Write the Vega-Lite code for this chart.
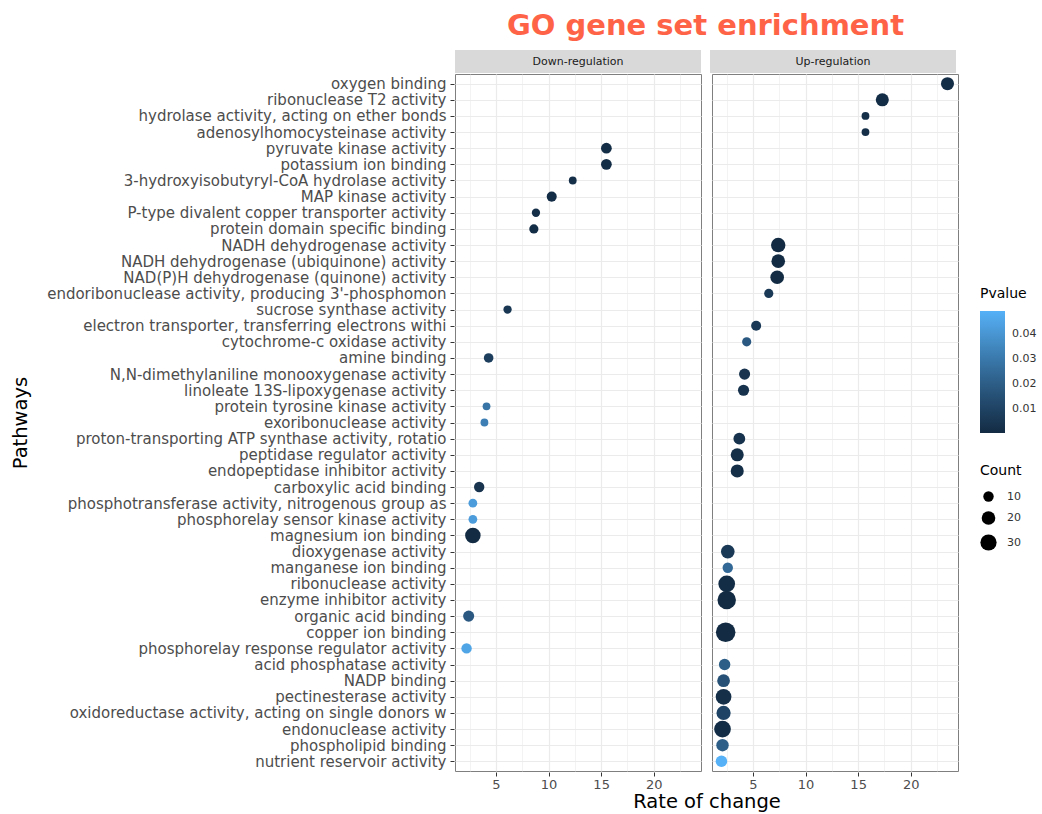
{
  "$schema": "https://vega.github.io/schema/vega-lite/v6.json",
  "background": "white",
  "padding": {"left": 9, "top": 12, "right": 5, "bottom": 0},
  "config": {
    "font": "DejaVu Sans",
    "view": {"stroke": "#7f7f7f", "strokeWidth": 1}
  },
  "data": {
    "values": [
      {"pathway": "oxygen binding", "dir": "Up-regulation", "rate": 23.5, "count": 18, "pvalue": 0.001},
      {"pathway": "ribonuclease T2 activity", "dir": "Up-regulation", "rate": 17.3, "count": 18, "pvalue": 0.001},
      {"pathway": "hydrolase activity, acting on ether bonds", "dir": "Up-regulation", "rate": 15.7, "count": 4, "pvalue": 0.002},
      {"pathway": "adenosylhomocysteinase activity", "dir": "Up-regulation", "rate": 15.7, "count": 4, "pvalue": 0.002},
      {"pathway": "pyruvate kinase activity", "dir": "Down-regulation", "rate": 15.5, "count": 11, "pvalue": 0.001},
      {"pathway": "potassium ion binding", "dir": "Down-regulation", "rate": 15.5, "count": 11, "pvalue": 0.001},
      {"pathway": "3-hydroxyisobutyryl-CoA hydrolase activity", "dir": "Down-regulation", "rate": 12.3, "count": 4, "pvalue": 0.002},
      {"pathway": "MAP kinase activity", "dir": "Down-regulation", "rate": 10.3, "count": 9, "pvalue": 0.001},
      {"pathway": "P-type divalent copper transporter activity", "dir": "Down-regulation", "rate": 8.8, "count": 5, "pvalue": 0.002},
      {"pathway": "protein domain specific binding", "dir": "Down-regulation", "rate": 8.6, "count": 7, "pvalue": 0.001},
      {"pathway": "NADH dehydrogenase activity", "dir": "Up-regulation", "rate": 7.4, "count": 23, "pvalue": 0.0005},
      {"pathway": "NADH dehydrogenase (ubiquinone) activity", "dir": "Up-regulation", "rate": 7.4, "count": 20, "pvalue": 0.0005},
      {"pathway": "NAD(P)H dehydrogenase (quinone) activity", "dir": "Up-regulation", "rate": 7.3, "count": 20, "pvalue": 0.0005},
      {"pathway": "endoribonuclease activity, producing 3'-phosphomon", "dir": "Up-regulation", "rate": 6.5, "count": 7, "pvalue": 0.006},
      {"pathway": "sucrose synthase activity", "dir": "Down-regulation", "rate": 6.1, "count": 5, "pvalue": 0.005},
      {"pathway": "electron transporter, transferring electrons withi", "dir": "Up-regulation", "rate": 5.3, "count": 9, "pvalue": 0.006},
      {"pathway": "cytochrome-c oxidase activity", "dir": "Up-regulation", "rate": 4.4, "count": 7, "pvalue": 0.018},
      {"pathway": "amine binding", "dir": "Down-regulation", "rate": 4.3, "count": 8, "pvalue": 0.008},
      {"pathway": "N,N-dimethylaniline monooxygenase activity", "dir": "Up-regulation", "rate": 4.2, "count": 12, "pvalue": 0.004},
      {"pathway": "linoleate 13S-lipoxygenase activity", "dir": "Up-regulation", "rate": 4.1, "count": 12, "pvalue": 0.003},
      {"pathway": "protein tyrosine kinase activity", "dir": "Down-regulation", "rate": 4.1, "count": 4, "pvalue": 0.028},
      {"pathway": "exoribonuclease activity", "dir": "Down-regulation", "rate": 3.9, "count": 4, "pvalue": 0.032},
      {"pathway": "proton-transporting ATP synthase activity, rotatio", "dir": "Up-regulation", "rate": 3.7, "count": 14, "pvalue": 0.003},
      {"pathway": "peptidase regulator activity", "dir": "Up-regulation", "rate": 3.5, "count": 18, "pvalue": 0.002},
      {"pathway": "endopeptidase inhibitor activity", "dir": "Up-regulation", "rate": 3.5, "count": 18, "pvalue": 0.002},
      {"pathway": "carboxylic acid binding", "dir": "Down-regulation", "rate": 3.4, "count": 10, "pvalue": 0.004},
      {"pathway": "phosphotransferase activity, nitrogenous group as", "dir": "Down-regulation", "rate": 2.8, "count": 6, "pvalue": 0.042},
      {"pathway": "phosphorelay sensor kinase activity", "dir": "Down-regulation", "rate": 2.8, "count": 6, "pvalue": 0.042},
      {"pathway": "magnesium ion binding", "dir": "Down-regulation", "rate": 2.8, "count": 27, "pvalue": 0.0005},
      {"pathway": "dioxygenase activity", "dir": "Up-regulation", "rate": 2.6, "count": 20, "pvalue": 0.006},
      {"pathway": "manganese ion binding", "dir": "Up-regulation", "rate": 2.6, "count": 10, "pvalue": 0.024},
      {"pathway": "ribonuclease activity", "dir": "Up-regulation", "rate": 2.5, "count": 32, "pvalue": 0.001},
      {"pathway": "enzyme inhibitor activity", "dir": "Up-regulation", "rate": 2.5, "count": 40, "pvalue": 0.0005},
      {"pathway": "organic acid binding", "dir": "Down-regulation", "rate": 2.4, "count": 12, "pvalue": 0.018},
      {"pathway": "copper ion binding", "dir": "Up-regulation", "rate": 2.4, "count": 45, "pvalue": 0.0005},
      {"pathway": "phosphorelay response regulator activity", "dir": "Down-regulation", "rate": 2.2, "count": 10, "pvalue": 0.045},
      {"pathway": "acid phosphatase activity", "dir": "Up-regulation", "rate": 2.3, "count": 13, "pvalue": 0.02},
      {"pathway": "NADP binding", "dir": "Up-regulation", "rate": 2.2, "count": 17, "pvalue": 0.015},
      {"pathway": "pectinesterase activity", "dir": "Up-regulation", "rate": 2.2, "count": 28, "pvalue": 0.002},
      {"pathway": "oxidoreductase activity, acting on single donors w", "dir": "Up-regulation", "rate": 2.2, "count": 22, "pvalue": 0.01},
      {"pathway": "endonuclease activity", "dir": "Up-regulation", "rate": 2.1, "count": 32, "pvalue": 0.001},
      {"pathway": "phospholipid binding", "dir": "Up-regulation", "rate": 2.1, "count": 16, "pvalue": 0.02},
      {"pathway": "nutrient reservoir activity", "dir": "Up-regulation", "rate": 2.0, "count": 13, "pvalue": 0.049}
    ]
  },
  "spacing": 0,
  "vconcat": [
    {
      "title": {"text": "GO gene set enrichment", "color": "#FF6347", "fontSize": 29, "fontWeight": "bold", "font": "DejaVu Sans", "anchor": "middle", "offset": 9},
      "transform": [{"aggregate": [{"op": "count", "as": "n"}], "groupby": ["dir"]}],
      "facet": {"column": {"field": "dir", "type": "nominal", "sort": ["Down-regulation", "Up-regulation"], "header": {"labels": false, "title": null}}},
      "spacing": 9,
      "spec": {
        "width": 246,
        "height": 23,
        "layer": [
          {"mark": {"type": "rect", "fill": "#D9D9D9"}, "encoding": {}},
          {"mark": {"type": "text", "fontSize": 11, "color": "#1A1A1A"}, "encoding": {"text": {"field": "dir", "type": "nominal"}}}
        ]
      }
    },
    {
      "facet": {"column": {"field": "dir", "type": "nominal", "title": "Rate of change", "sort": ["Down-regulation", "Up-regulation"],
                           "header": {"labels": false, "titleOrient": "bottom", "titleFontSize": 19.5, "titleFontWeight": "normal", "titleColor": "#000000", "titlePadding": -8}}},
      "spacing": 9,
      "spec": {
        "width": 246,
        "height": 697,
        "mark": {"type": "circle", "opacity": 1},
        "encoding": {
          "y": {
            "field": "pathway", "type": "nominal", "sort": null,
            "scale": {"type": "point", "padding": 0.6},
            "axis": {"title": "Pathways", "titleFontSize": 19.5, "titleFontWeight": "normal", "titleColor": "#000000", "titleX": -424,
                     "labelFontSize": 15, "labelColor": "#4D4D4D", "labelPadding": 4, "labelLimit": 460, "tickSize": 4, "tickColor": "#333333",
                     "domain": false, "grid": true, "gridColor": "#EBEBEB", "gridWidth": 1.2}
          },
          "x": {
            "field": "rate", "type": "quantitative",
            "scale": {"domain": [1.1, 24.5], "nice": false, "zero": false},
            "axis": {"title": null,
                     "values": [2.5, 5, 7.5, 10, 12.5, 15, 17.5, 20, 22.5],
                     "labelExpr": "datum.value % 5 === 0 ? datum.label : ''",
                     "labelFontSize": 13, "labelColor": "#4D4D4D", "labelPadding": 2, "tickSize": 4,
                     "tickColor": {"condition": {"test": "datum.value % 5 !== 0", "value": "transparent"}, "value": "#333333"},
                     "domain": false, "grid": true, "gridColor": "#EBEBEB",
                     "gridWidth": {"condition": {"test": "datum.value % 5 !== 0", "value": 0.6}, "value": 1.2}}
          },
          "size": {
            "field": "count", "type": "quantitative",
            "scale": {"domain": [0, 50], "range": [30, 420]},
            "legend": {"title": "Count", "values": [10, 20, 30], "orient": "none", "legendX": 525, "legendY": 414,
                       "symbolFillColor": "#000000", "symbolStrokeColor": "#000000", "symbolStrokeWidth": 0, "symbolOpacity": 1,
                       "rowPadding": 9, "titlePadding": 13, "labelOffset": 10,
                       "titleFontSize": 14, "titleFontWeight": "normal", "titleColor": "#000000", "labelFontSize": 11, "labelColor": "#333333"}
          },
          "color": {
            "field": "pvalue", "type": "quantitative",
            "scale": {"domain": [0.0002, 0.049], "range": ["#132B43", "#56B1F7"], "interpolate": "lab"},
            "legend": {"title": "Pvalue", "values": [0.01, 0.02, 0.03, 0.04], "format": ".2f", "orient": "none", "legendX": 525, "legendY": 237,
                       "gradientLength": 122, "gradientThickness": 25, "gradientStrokeWidth": 0, "titlePadding": 10, "labelOffset": 7,
                       "titleFontSize": 14, "titleFontWeight": "normal", "titleColor": "#000000", "labelFontSize": 11, "labelColor": "#333333"}
          }
        }
      }
    }
  ]
}
